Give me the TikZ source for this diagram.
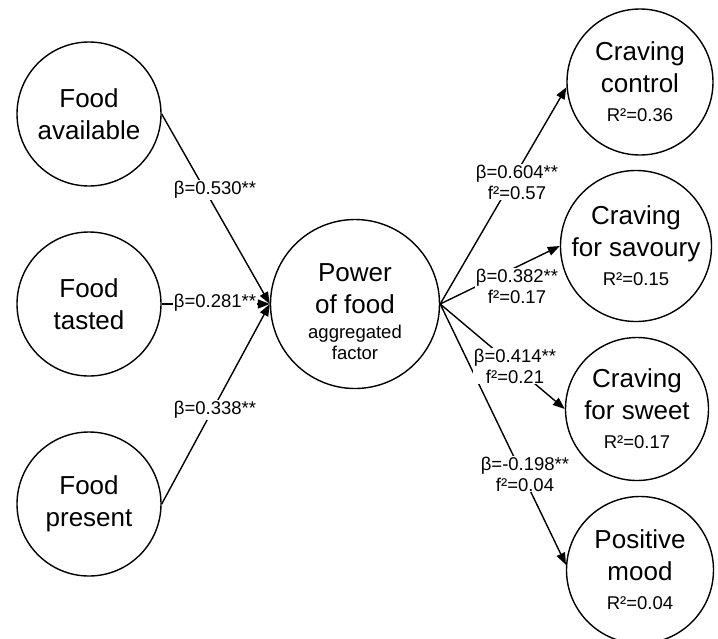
\documentclass[tikz,border=0pt]{standalone}
\usepackage{fontspec}
\setmainfont{Liberation Sans}
\usetikzlibrary{arrows.meta}
\newcommand{\bigfont}{\fontsize{26}{32}\selectfont}
\newcommand{\smallfont}{\fontsize{18.5}{21}\selectfont}

\begin{document}
\begin{tikzpicture}[x=1pt, y=-1pt, >={Triangle[length=12pt,width=9pt]},
  latent/.style={circle, draw, line width=1.4pt, inner sep=0pt, align=center, font=\bigfont},
  path/.style={->, line width=1.4pt},
  coef/.style={fill=white, inner sep=1pt, align=center, font=\smallfont}]
  \useasboundingbox (0,0) rectangle (718,638);
  % exogenous factors
  \node[latent, minimum size=144pt] (avail) at (89,114) {Food\\available};
  \node[latent, minimum size=144pt] (tasted) at (89,304) {Food\\tasted};
  \node[latent, minimum size=144pt] (present) at (89,504) {Food\\present};
  % aggregated factor
  \node[latent, minimum size=169pt] (pw) at (355,304) {};
  \node[align=center, font=\bigfont] (pwtext) at ([yshift=-8pt]pw.center)
    {Power\\of food\\[-7pt]{\smallfont aggregated}\\[-11pt]{\smallfont factor}};
  % outcomes
  \node[latent, minimum size=146pt] (control) at (640,82) {Craving\\control\\[-3pt]{\smallfont R²=0.36}};
  \node[latent, minimum size=139pt] (savoury) at (636,246) {Craving\\for savoury\\[-3pt]{\smallfont R²=0.15}};
  \node[latent, minimum size=143pt] (sweet) at (637,409) {Craving\\for sweet\\[-3pt]{\smallfont R²=0.17}};
  \node[latent, minimum size=147pt] (mood) at (640,570) {Positive\\mood\\[-3pt]{\smallfont R²=0.04}};
  % paths
  \draw[path] (avail.east) -- (pw.west);
  \draw[path] (tasted.east) -- (pw.west);
  \draw[path] (present.east) -- (pw.west);
  \draw[path] (pw.east) -- (control.184);
  \draw[path] (pw.east) -- (savoury.west);
  \draw[path] (pw.east) -- (sweet.west);
  \draw[path] (pw.east) -- (mood.176);
  % coefficients
  \node[coef] (b1) at (215,190) {β=0.530**};
  \node[coef] (b2) at (215,303) {β=0.281**};
  \node[coef] (b3) at (215,410) {β=0.338**};
  \node[coef] (b4) at (517,182) {β=0.604**\\f²=0.57};
  \node[coef] (b5) at (517,286) {β=0.382**\\f²=0.17};
  \node[coef] (b6) at (515,366) {β=0.414**\\f²=0.21};
  \node[coef] (b7) at (525,474) {β=-0.198**\\f²=0.04};
\end{tikzpicture}
\end{document}
